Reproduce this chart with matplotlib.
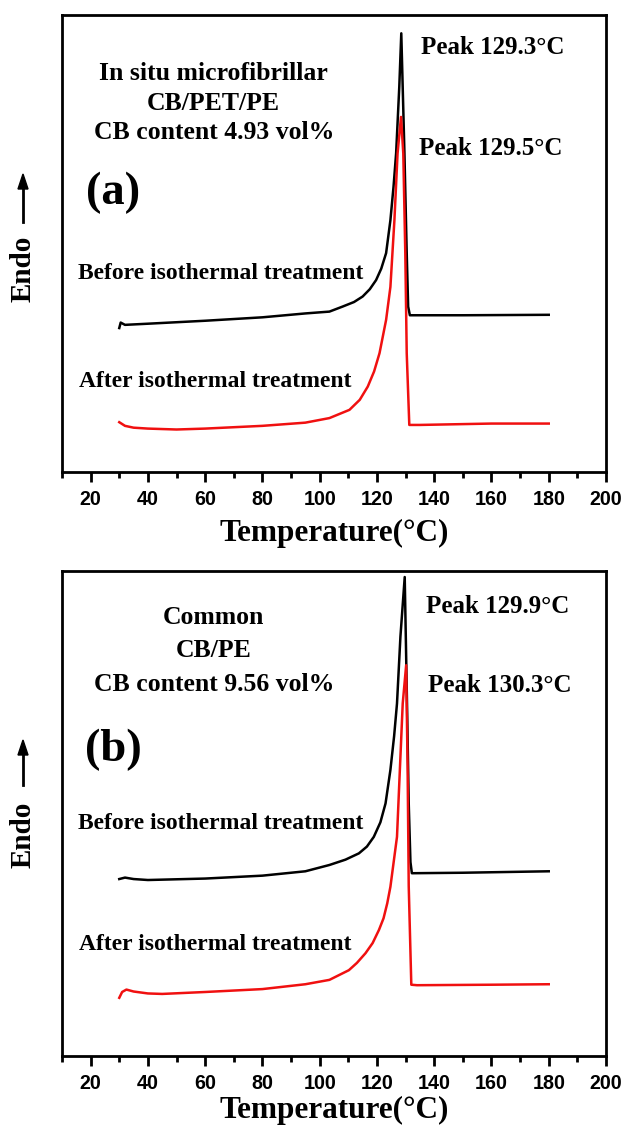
import matplotlib
matplotlib.use("Agg")
import matplotlib.pyplot as plt
from matplotlib.ticker import MultipleLocator

# panel (a): in situ microfibrillar CB/PET/PE
temp_a_before = [30, 30.5, 32, 40, 60, 80, 95, 103.4, 108, 112, 115, 117.5, 119.7, 121.5, 123.2,
                 124.7, 125.8, 126.7, 127.8, 128.5, 129.6, 130.4, 130.9, 131.5, 150, 180]
endo_a_before = [0.315, 0.327, 0.322, 0.3245, 0.331, 0.3385, 0.347, 0.351, 0.362, 0.372, 0.384,
                 0.400, 0.420, 0.445, 0.479, 0.551, 0.625, 0.698, 0.843, 0.960, 0.698, 0.479,
                 0.362, 0.343, 0.343, 0.344]
temp_a_after = [30, 32, 35, 40, 50, 60, 80, 95, 103.4, 110.4, 114, 116.8, 119, 120.9, 123.2,
                124.7, 126.1, 127.2, 128.4, 129.2, 129.9, 130.4, 131.3, 135, 160, 180]
endo_a_after = [0.109, 0.101, 0.097, 0.095, 0.093, 0.095, 0.101, 0.108, 0.118, 0.136, 0.158,
                0.187, 0.220, 0.260, 0.333, 0.405, 0.551, 0.697, 0.777, 0.697, 0.479, 0.260,
                0.103, 0.103, 0.106, 0.106]

# panel (b): common CB/PE
temp_b_before = [30, 32, 35, 40, 60, 80, 95, 103.4, 109, 113.7, 116.5, 118.9, 121.2, 123.0,
                 124.7, 126.0, 127.0, 128.2, 129.7, 130.5, 131.1, 131.7, 132.2, 150, 180]
endo_b_before = [0.365, 0.368, 0.365, 0.363, 0.366, 0.372, 0.381, 0.394, 0.405, 0.418, 0.432,
                 0.452, 0.482, 0.521, 0.590, 0.660, 0.727, 0.865, 0.988, 0.727, 0.521, 0.400,
                 0.377, 0.378, 0.381]
temp_b_after = [30, 31, 32.5, 35, 40, 45, 60, 80, 95, 103.4, 110.2, 113, 116.0, 118.5, 120.7,
                122.3, 123.6, 124.7, 127.0, 128.0, 129.0, 130.2, 130.7, 131.1, 132.0, 134, 160,
                180]
endo_b_after = [0.120, 0.132, 0.137, 0.133, 0.129, 0.128, 0.132, 0.138, 0.148, 0.157, 0.177,
                0.192, 0.212, 0.233, 0.260, 0.284, 0.315, 0.349, 0.452, 0.590, 0.727, 0.806,
                0.600, 0.350, 0.147, 0.146, 0.147, 0.148]

SERIF = "Liberation Serif"
SANS = "Liberation Sans"

fig = plt.figure(figsize=(6.23, 11.3), dpi=100)


def draw_panel(rect, before, after, letter, sample_lines, peaks, label_y, text_y, endo_y, pad):
    ax = fig.add_axes(rect)
    ax.plot(before[0], before[1], color="black", lw=1.8)
    ax.plot(after[0], after[1], color="#f01010", lw=1.8)
    ax.set_xlim(10, 200)
    ax.set_ylim(0, 1)
    ax.set_yticks([])
    ax.xaxis.set_major_locator(MultipleLocator(20))
    ax.xaxis.set_minor_locator(MultipleLocator(10))
    ax.tick_params(axis="x", which="major", direction="out", length=7, width=2, pad=6)
    ax.tick_params(axis="x", which="minor", direction="out", length=4, width=2)
    ax.set_xticks(range(20, 201, 20))
    ax.set_xticklabels([str(t) for t in range(20, 201, 20)],
                       fontfamily=SANS, fontweight="bold", fontsize=14.2)
    for s in ax.spines.values():
        s.set_linewidth(2)
    ax.set_xlabel("Temperature(°C)", fontfamily=SERIF, fontweight="bold",
                  fontsize=22.5, labelpad=pad)

    tr = ax.get_xaxis_transform()
    for line, y in zip(sample_lines, text_y):
        ax.text(63, y, line, transform=tr, ha="center", va="center",
                fontfamily=SERIF, fontweight="bold", fontsize=18.5)
    ax.text(28, label_y[0], letter, transform=tr, ha="center", va="center",
            fontfamily=SERIF, fontweight="bold", fontsize=33.5)
    for txt, x, y in peaks:
        ax.text(x, y, txt, transform=tr, ha="left", va="center",
                fontfamily=SERIF, fontweight="bold", fontsize=18)
    ax.text(15.5, label_y[1], "Before isothermal treatment", transform=tr,
            ha="left", va="center", fontfamily=SERIF, fontweight="bold", fontsize=17)
    ax.text(16, label_y[2], "After isothermal treatment", transform=tr,
            ha="left", va="center", fontfamily=SERIF, fontweight="bold", fontsize=17)

    # "Endo" with upward arrow, left of the axes
    fy_text, fy_tail, fy_head = endo_y
    fig.text(23 / 623, 1 - fy_text / 1130, "Endo", rotation=90, ha="center", va="center",
             fontfamily=SERIF, fontweight="bold", fontsize=21)
    fig.add_artist(plt.Line2D([23 / 623, 23 / 623],
                              [1 - fy_tail / 1130, 1 - (fy_head + 8) / 1130],
                              color="black", lw=2))
    fig.patches.append(matplotlib.patches.FancyArrow(
        23 / 623, 1 - (fy_head + 15) / 1130, 0, 15 / 1130, width=0, head_width=10 / 623,
        head_length=15 / 1130, length_includes_head=True, color="black",
        transform=fig.transFigure, figure=fig))
    return ax


draw_panel([62 / 623, 0.5823, 544 / 623, 0.4044],
           (temp_a_before, endo_a_before), (temp_a_after, endo_a_after), "(a)",
           ["In situ microfibrillar", "CB/PET/PE", "CB content 4.93 vol%"],
           [("Peak 129.3°C", 135.3, 0.928), ("Peak 129.5°C", 134.8, 0.709)],
           (0.61, 0.435, 0.197), (0.873, 0.807, 0.742), (269, 222, 174), 7)

draw_panel([62 / 623, 0.0655, 544 / 623, 0.429],
           (temp_b_before, endo_b_before), (temp_b_after, endo_b_after), "(b)",
           ["Common", "CB/PE", "CB content 9.56 vol%"],
           [("Peak 129.9°C", 137.3, 0.928), ("Peak 130.3°C", 137.8, 0.765)],
           (0.631, 0.48, 0.229), (0.905, 0.837, 0.767), (835, 785, 740), 2)

fig.savefig("out.png", dpi=100)
